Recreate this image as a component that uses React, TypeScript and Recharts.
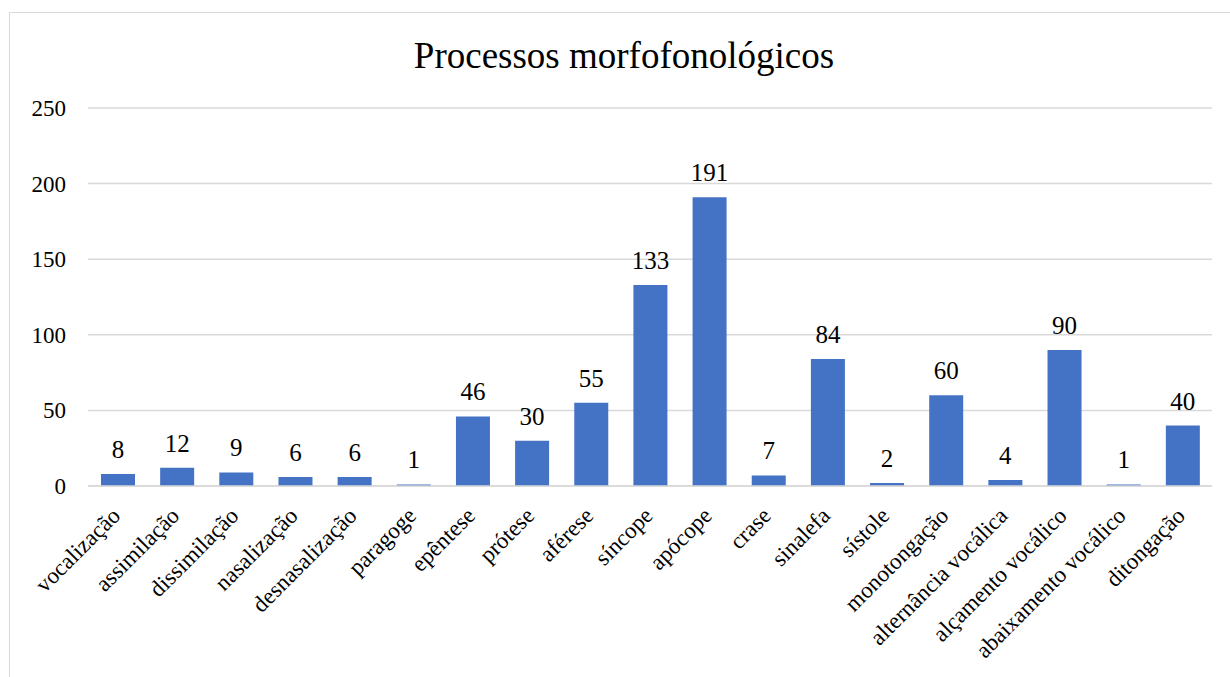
import React from "react";
import { BarChart, Bar, XAxis, YAxis, CartesianGrid, LabelList } from "recharts";

const categories = [
  "vocalização", "assimilação", "dissimilação", "nasalização", "desnasalização",
  "paragoge", "epêntese", "prótese", "aférese", "síncope", "apócope", "crase",
  "sinalefa", "sístole", "monotongação", "alternância vocálica",
  "alçamento vocálico", "abaixamento vocálico", "ditongação",
];
const values = [8, 12, 9, 6, 6, 1, 46, 30, 55, 133, 191, 7, 84, 2, 60, 4, 90, 1, 40];
const yTicks = [0, 50, 100, 150, 200, 250];
const title = "Processos morfofonológicos";

const data = categories.map((name, i) => ({ name, value: values[i] }));

const FONT = "'Liberation Serif', 'Times New Roman', serif";

const XTick = (props: any) => {
  const { x, y, payload } = props;
  const px = x + 4;
  const py = y + 31;
  return (
    <text
      x={px}
      y={py}
      transform={`rotate(-45, ${px}, ${py})`}
      textAnchor="end"
      style={{ fontFamily: FONT, fontSize: 23, fill: "#000" }}
    >
      {payload.value}
    </text>
  );
};

const YTick = (props: any) => {
  const { x, y, payload } = props;
  return (
    <text
      x={x}
      y={y}
      dy={8}
      textAnchor="end"
      style={{ fontFamily: FONT, fontSize: 23, fill: "#000" }}
    >
      {payload.value}
    </text>
  );
};

const ValueLabel = (props: any) => {
  const { x, y, width, value } = props;
  return (
    <text
      x={x + width / 2}
      y={y - 16}
      textAnchor="middle"
      style={{ fontFamily: FONT, fontSize: 25, fill: "#000" }}
    >
      {value}
    </text>
  );
};

export default function App() {
  return (
    <div style={{ position: "fixed", left: 0, top: 0, width: 1230, height: 677, overflow: "hidden", background: "#fff" }}>
      <div
        style={{
          position: "absolute",
          left: 9,
          top: 12,
          width: 1260,
          height: 720,
          border: "1px solid #d9d9d9",
          boxSizing: "border-box",
        }}
      />
      <div
        style={{
          position: "absolute",
          left: 324,
          top: 37,
          width: 600,
          textAlign: "center",
          fontFamily: FONT,
          fontSize: 37,
          lineHeight: "37px",
          color: "#000",
          whiteSpace: "nowrap",
        }}
      >
        {title}
      </div>
      <div style={{ position: "absolute", left: 0, top: 0 }}>
        <BarChart
          width={1230}
          height={677}
          data={data}
          margin={{ top: 108, right: 18, bottom: 0, left: 0 }}
          barSize={34}
        >
          <CartesianGrid vertical={false} stroke="#d9d9d9" strokeWidth={1.5} />
          <XAxis
            dataKey="name"
            interval={0}
            height={191}
            tickLine={false}
            tickSize={0}
            tickMargin={0}
            axisLine={{ stroke: "#d9d9d9", strokeWidth: 1.5 }}
            tick={<XTick />}
          />
          <YAxis
            width={88}
            domain={[0, 250]}
            ticks={yTicks}
            axisLine={false}
            tickLine={false}
            tickSize={0}
            tickMargin={22}
            tick={<YTick />}
          />
          <Bar dataKey="value" fill="#4472C4" isAnimationActive={false}>
            <LabelList dataKey="value" content={<ValueLabel />} />
          </Bar>
        </BarChart>
      </div>
    </div>
  );
}
